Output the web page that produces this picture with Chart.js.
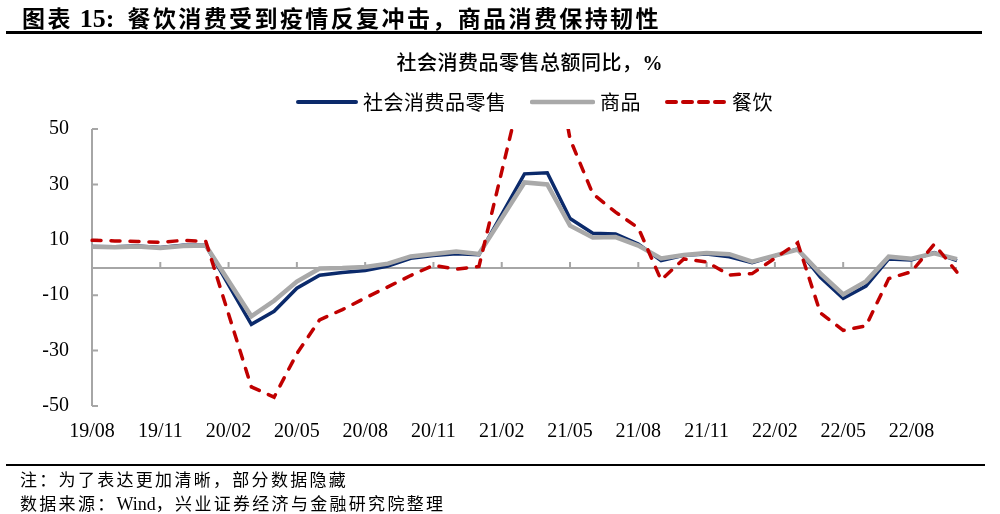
<!DOCTYPE html>
<html lang="zh-CN">
<head>
  <meta charset="UTF-8">
  <title>社会消费品零售总额同比</title>
  <script src="https://cdn.jsdelivr.net/npm/chart.js"></script>
  <style>
    body {
      margin: 0;
      background: #fff;
      font-family: "Noto Sans CJK SC", sans-serif;
      color: #000;
    }
    #page {
      position: relative;
      width: 1000px;
      height: 514px;
      overflow: hidden;
    }
    #chartBox {
      position: absolute;
      left: 0;
      top: 0;
      width: 1000px;
      height: 514px;
    }
    #title {
      position: absolute;
      left: 22px;
      top: 2px;
      line-height: 30px;
      font-size: 23px;
      font-weight: bold;
      letter-spacing: 2.4px;
      white-space: nowrap;
    }
    #title .num {
      display: inline-block;
      font-family: "Liberation Serif", serif;
      font-size: 26px;
      letter-spacing: 0;
      margin-left: 7px;
      margin-right: 13px;
    }
    .rule {
      position: absolute;
      left: 6px;
      background: #000;
    }
    #subtitle {
      position: absolute;
      right: 337px;
      top: 49px;
      line-height: 26px;
      font-size: 20px;
      font-weight: 500;
      letter-spacing: 0.5px;
      white-space: nowrap;
    }
    #subtitle .pct {
      font-family: "Liberation Serif", serif;
      font-weight: bold;
    }
    #legend {
      position: absolute;
      left: 0;
      top: 88px;
      height: 28px;
      width: 1000px;
    }
    .item {
      position: absolute;
      top: 0;
      height: 28px;
      line-height: 28px;
      font-size: 20px;
      letter-spacing: 0.5px;
      white-space: nowrap;
    }
    .item svg {
      position: absolute;
      top: 0;
    }
    .note {
      position: absolute;
      left: 20px;
      font-size: 17px;
      line-height: 22px;
      letter-spacing: 2.3px;
      white-space: nowrap;
    }
    .note .en {
      font-family: "Liberation Serif", serif;
      letter-spacing: 0;
      font-size: 18px;
    }
  </style>
</head>
<body>
<div id="page">
  <div id="chartBox"><canvas id="lineChart"></canvas></div>

  <div id="title">图表<span class="num">15:</span>餐饮消费受到疫情反复冲击，商品消费保持韧性</div>
  <div class="rule" style="top:31px; width:976px; height:3px;"></div>

  <div id="subtitle">社会消费品零售总额同比，<span class="pct">%</span></div>

  <div id="legend"></div>

  <div class="rule" style="top:464px; width:979px; height:2px;"></div>
  <div class="note" style="top:468px;">注：为了表达更加清晰，部分数据隐藏</div>
  <div class="note" style="top:492px;">数据来源：<span class="en">Wind</span>，兴业证券经济与金融研究院整理</div>
</div>

<script>
  // months on the category axis (Jan values are blank: data comes as Jan-Feb combined)
  const categories = [
    '19/08', '19/09', '19/10', '19/11', '19/12', '20/01', '20/02', '20/03', '20/04', '20/05',
    '20/06', '20/07', '20/08', '20/09', '20/10', '20/11', '20/12', '21/01', '21/02', '21/03',
    '21/04', '21/05', '21/06', '21/07', '21/08', '21/09', '21/10', '21/11', '21/12', '22/01',
    '22/02', '22/03', '22/04', '22/05', '22/06', '22/07', '22/08', '22/09', '22/10'
  ];

  const retail = [
    7.6, 7.5, 7.8, 7.2, 8.0, 8.0, null, -20.5, -15.8, -7.5,
    -2.8, -1.8, -1.1, 0.5, 3.3, 4.3, 5.0, 4.6, null, 33.8,
    34.2, 17.7, 12.4, 12.1, 8.5, 2.5, 4.4, 4.9, 3.9, 1.7,
    null, 6.7, -3.5, -11.1, -6.7, 3.1, 2.7, 5.4, 2.5
  ];

  const goods = [
    7.5, 7.3, 7.6, 7.0, 7.8, 7.9, null, -17.6, -12.0, -5.1,
    -0.4, -0.2, 0.2, 1.4, 4.0, 4.9, 5.8, 4.9, null, 30.7,
    30.0, 15.1, 10.8, 11.0, 7.9, 3.3, 4.5, 5.2, 4.8, 2.1,
    null, 6.5, -2.1, -9.7, -5.0, 3.9, 3.2, 5.1, 3.0
  ];

  const catering = [
    9.8, 9.6, 9.4, 9.1, 9.8, 9.4, null, -43.1, -46.8, -31.1,
    -18.9, -15.2, -11.0, -7.0, -2.9, 0.8, -0.6, 0.4, null, 68.9,
    91.6, 46.4, 26.6, 20.0, 14.3, -4.5, 3.1, 2.0, -2.7, -2.2,
    null, 8.9, -16.4, -22.7, -21.1, -4.0, -1.5, 8.4, -1.7
  ];

  const yTicks = [-50, -30, -10, 10, 30, 50];
  const labelEvery = 3;

  const seriesNames = ['社会消费品零售', '商品', '餐饮'];
  const axisGray = '#a6a6a6';

  // legend drawn as html, positions
  const legendItems = [
    { left: 296, lineW: 62, color: '#0b2a6b', width: 4, dash: '' },
    { left: 530, lineW: 65, color: '#a9a9a9', width: 4.5, dash: '' },
    { left: 665, lineW: 62, color: '#c00000', width: 4, dash: '9 7' }
  ];
  const legend = document.getElementById('legend');
  legendItems.forEach((it, i) => {
    const div = document.createElement('div');
    div.className = 'item';
    div.style.left = it.left + 'px';
    div.style.paddingLeft = (it.lineW + 5) + 'px';
    div.innerHTML =
      `<svg width="${it.lineW}" height="28" style="left:0">` +
      `<line x1="2" y1="14" x2="${it.lineW - 2}" y2="14" stroke="${it.color}" stroke-width="${it.width}"` +
      ` stroke-linecap="round" stroke-dasharray="${it.dash}"/></svg>` + seriesNames[i];
    legend.appendChild(div);
  });

  // zero line, y axis line and the small inward ticks
  const axisLines = {
    id: 'axisLines',
    beforeDatasetsDraw(chart) {
      const { ctx, chartArea: a, scales: { x, y } } = chart;
      const y0 = Math.round(y.getPixelForValue(0));
      ctx.save();
      ctx.strokeStyle = axisGray;
      ctx.lineWidth = 2;
      ctx.beginPath();
      ctx.moveTo(a.left, y0);
      ctx.lineTo(a.right, y0);
      ctx.moveTo(a.left, a.top);
      ctx.lineTo(a.left, a.bottom);
      yTicks.forEach(v => {
        const py = y.getPixelForValue(v);
        ctx.moveTo(a.left, py);
        ctx.lineTo(a.left + 6, py);
      });
      categories.forEach((c, i) => {
        if (i > 0 && i % labelEvery === 0) {
          const px = x.getPixelForValue(i);
          ctx.moveTo(px, y0);
          ctx.lineTo(px, y0 - 6);
        }
      });
      ctx.stroke();
      ctx.restore();
    }
  };

  const tickFont = { family: '"Liberation Serif", serif', size: 20 };

  new Chart(document.getElementById('lineChart'), {
    type: 'line',
    data: {
      labels: categories,
      datasets: [
        {
          label: seriesNames[0],
          data: retail,
          borderColor: '#0b2a6b',
          borderWidth: 3.5,
          order: 2
        },
        {
          label: seriesNames[1],
          data: goods,
          borderColor: '#a9a9a9',
          borderWidth: 4.5,
          order: 1
        },
        {
          label: seriesNames[2],
          data: catering,
          borderColor: '#c00000',
          borderWidth: 3.5,
          borderDash: [9, 10],
          borderCapStyle: 'round',
          order: 0
        }
      ]
    },
    options: {
      responsive: true,
      maintainAspectRatio: false,
      animation: false,
      spanGaps: true,
      elements: {
        point: { radius: 0, hoverRadius: 0 },
        line: { tension: 0, fill: false }
      },
      layout: {
        padding: { left: 0, right: 43, top: 129, bottom: 0 }
      },
      plugins: {
        legend: { display: false },
        tooltip: { enabled: false }
      },
      scales: {
        x: {
          grid: { display: false, drawTicks: false },
          border: { display: false },
          afterFit: s => { s.height = 108; },
          ticks: {
            autoSkip: false,
            maxRotation: 0,
            padding: 14,
            color: '#000',
            font: tickFont,
            callback: (v, i) => (i % labelEvery === 0 ? categories[i] : '')
          }
        },
        y: {
          min: -50,
          max: 50,
          grid: { display: false, drawTicks: false },
          border: { display: false },
          afterFit: s => { s.width = 92; },
          afterBuildTicks: s => { s.ticks = yTicks.map(v => ({ value: v })); },
          ticks: {
            padding: 23,
            color: '#000',
            font: tickFont
          }
        }
      }
    },
    plugins: [axisLines]
  });
</script>
</body>
</html>
